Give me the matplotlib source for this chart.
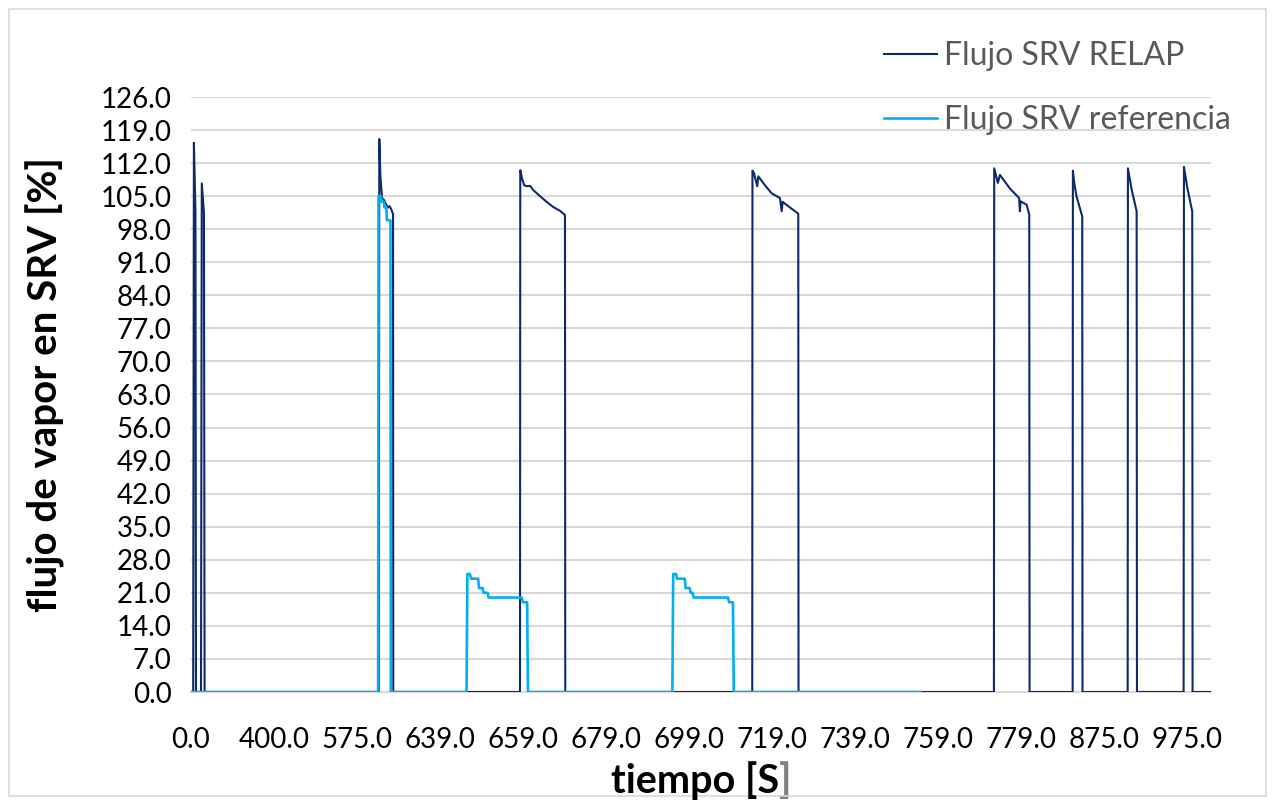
import numpy as np
import matplotlib
matplotlib.use("Agg")
import matplotlib.pyplot as plt
from matplotlib.patches import Rectangle

plt.rcParams['font.family'] = ['Lato', 'DejaVu Sans']

# ---------------- data ----------------
tick_times = [0, 400, 575, 639, 659, 679, 699, 719, 739, 759, 779, 875, 975]
tick_labels = [f"{t:.1f}" for t in tick_times]
y_ticks = np.arange(0, 127, 7)

relap_t = [0, 10.5, 14.0, 21.5, 24.0, 48.2, 52.0, 62.5, 65.5,
           591.8, 592.2, 593.1, 594.3, 595.8, 597.4, 598.9, 600.1, 601.6, 602.8, 603.0,
           658.28, 658.35, 658.76, 659.31, 659.96, 660.69, 661.48, 663.10, 664.71, 666.30, 667.92, 669.12, 669.19,
           714.25, 714.3, 714.66, 715.46, 715.70, 717.32, 718.93, 720.93, 721.34, 721.58, 723.34, 725.34, 725.4,
           772.49, 772.56, 773.45, 773.93, 776.36, 778.57, 778.74, 778.93, 785.6, 788.6, 789.0,
           838.8, 839.1, 840.8, 843.4, 849.9, 850.2,
           903.6, 903.9, 908.4, 914.4, 914.8,
           971.0, 971.4, 975.4, 981.4, 981.8, 1004]
relap_v = [0, 0, 116.3, 101.5, 0, 0, 107.7, 101.4, 0,
           0, 117.1, 109.0, 104.6, 104.2, 103.3, 102.6, 102.9, 102.1, 101.2, 0,
           0, 110.5, 108.8, 107.3, 107.1, 107.2, 106.3, 105.0, 103.8, 102.7, 101.9, 101.0, 0,
           0, 110.4, 109.9, 107.1, 109.2, 107.3, 105.6, 104.6, 101.8, 103.8, 102.6, 101.3, 0,
           0, 110.9, 107.8, 109.5, 106.6, 104.6, 101.8, 103.9, 103.2, 101.1, 0,
           0, 110.4, 107.6, 104.9, 100.7, 0,
           0, 110.9, 106.4, 101.8, 0,
           0, 111.2, 106.8, 101.8, 0, 0]

ref_t = [0, 591.3, 591.6, 593.4, 593.7, 595.8, 596.1, 597.7, 598.0, 600.8, 601.1,
         645.4, 645.6, 646.2, 646.5, 648.2, 648.4, 649.3, 649.5, 650.5, 650.7, 658.7, 659.0, 660.0, 660.2,
         695.0, 695.2, 695.9, 696.1, 698.0, 698.2, 699.2, 699.4, 699.9, 700.1, 708.4, 708.7, 709.6, 709.8, 754.7]
ref_v = [0, 0, 105, 105, 103.8, 103.8, 102.6, 102.6, 99.9, 99.9, 0,
         0, 25, 25, 24, 24, 22, 22, 21, 21, 20, 20, 19, 19, 0,
         0, 25, 25, 24, 24, 22, 22, 21, 21, 20, 20, 19, 19, 0, 0]

# ---------------- category-like time axis ----------------
anchor_t = np.array(tick_times + [1075], dtype=float)
anchor_p = np.arange(len(anchor_t), dtype=float)


def fwd(t):
    return np.interp(t, anchor_t, anchor_p)


def inv(p):
    return np.interp(p, anchor_p, anchor_t)


fig = plt.figure(figsize=(12.72, 8.05), dpi=100)
ax = fig.add_axes([191 / 1272, 1 - 692 / 805, (1211 - 191) / 1272, (692 - 97) / 805])
ax.set_xscale('function', functions=(fwd, inv))

navy = '#0E2A6B'
light = '#00B0F0'
grid_c = '#D9D9D9'

l1, = ax.plot(relap_t, relap_v, color=navy, lw=1.5, label='Flujo SRV RELAP', zorder=3)
l2, = ax.plot(ref_t, ref_v, color=light, lw=1.9, label='Flujo SRV referencia', zorder=4)

ax.set_xlim(0, 1004)
ax.set_ylim(0, 126)
ax.set_xticks(tick_times)
ax.set_xticklabels(tick_labels)
ax.set_yticks(y_ticks)
ax.set_yticklabels([f"{v:.1f}" for v in y_ticks])
ax.yaxis.grid(True, color=grid_c, lw=1.5, zorder=0)
ax.set_axisbelow(True)
for s in ['top', 'right', 'left']:
    ax.spines[s].set_visible(False)
ax.spines['bottom'].set_color(grid_c)
ax.spines['bottom'].set_linewidth(1.5)
ax.tick_params(axis='both', length=0, labelsize=20, colors='black')
ax.tick_params(axis='x', pad=25)
ax.tick_params(axis='y', pad=14)

# axis titles
fig.text(45 / 1272, 1 - 384 / 805, 'flujo de vapor en SRV [%]', rotation=90,
         ha='center', va='center', fontsize=29, fontweight='bold', color='black')
t1 = fig.text(611 / 1272, 1 - 781 / 805, 'tiempo [S', ha='left', va='center',
              fontsize=28.5, fontweight='bold', color='black')
fig.canvas.draw()
ax.annotate(']', xy=(1, 0.5), xycoords=t1, ha='left', va='center',
            fontsize=28.5, fontweight='bold', color='#7F7F7F')

# legend
leg = fig.legend(handles=[l1, l2], loc='upper left', bbox_to_anchor=(884 / 1272, 1 - 41 / 805),
                 frameon=False, fontsize=23, labelspacing=1.06, handlelength=1.65,
                 handletextpad=0.22, borderpad=0, borderaxespad=0)
for txt in leg.get_texts():
    txt.set_color('#595959')

# chart-area border
fig.patches.append(Rectangle((9 / 1272, 9 / 805), 1257 / 1272, 787 / 805, transform=fig.transFigure,
                             fill=False, edgecolor=grid_c, lw=1.2))

fig.savefig('out.png', dpi=100)
